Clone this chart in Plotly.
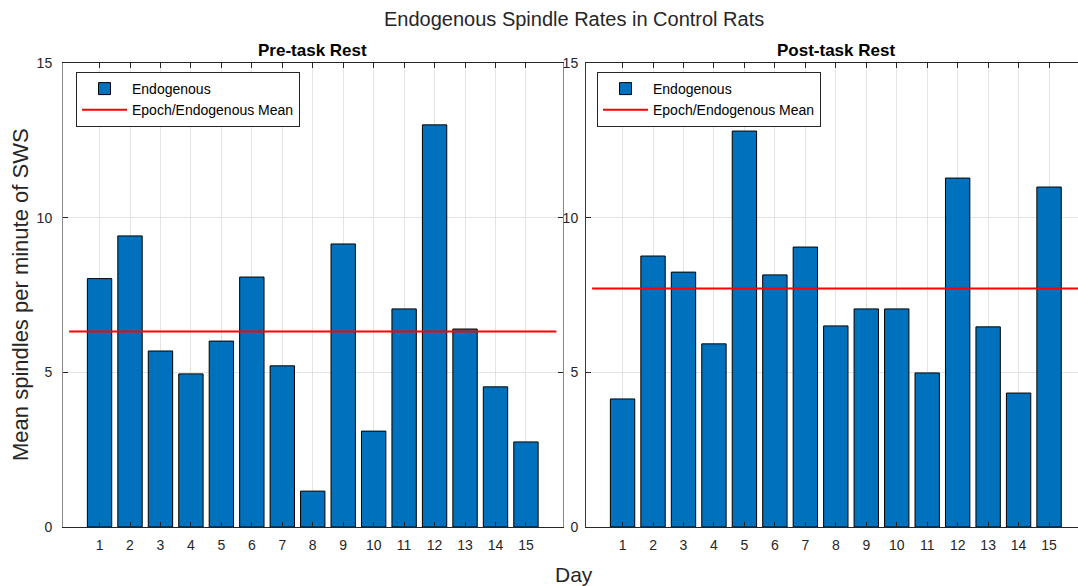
import plotly.graph_objects as go

days = list(range(1, 16))
pre_rates = [8.03, 9.41, 5.69, 4.95, 6.01, 8.08, 5.21, 1.16, 9.15, 3.10, 7.05, 13.0, 6.40, 4.53, 2.75]
post_rates = [4.14, 8.76, 8.24, 5.92, 12.80, 8.15, 9.05, 6.50, 7.05, 7.05, 4.98, 11.28, 6.47, 4.33, 10.99]
pre_mean = 6.32
post_mean = 7.71
mean_span = [0, 16]
y_ticks = [0, 5, 10, 15]

BAR = "#0072BD"
TXT = "#262626"
GRID = "#e3e3e3"
FONT = "Liberation Sans, Arial, sans-serif"

fig = go.Figure()

fig.add_trace(go.Bar(x=days, y=pre_rates, width=0.8, name="Endogenous",
                     marker=dict(color=BAR, line=dict(color="black", width=1)),
                     xaxis="x", yaxis="y", legend="legend"))
fig.add_trace(go.Scatter(x=mean_span, y=[pre_mean, pre_mean], mode="lines",
                         name="Epoch/Endogenous Mean", line=dict(color="#FF0000", width=2),
                         xaxis="x", yaxis="y", legend="legend"))
fig.add_trace(go.Bar(x=days, y=post_rates, width=0.8, name="Endogenous",
                     marker=dict(color=BAR, line=dict(color="black", width=1)),
                     xaxis="x2", yaxis="y2", legend="legend2"))
fig.add_trace(go.Scatter(x=mean_span, y=[post_mean, post_mean], mode="lines",
                         name="Epoch/Endogenous Mean", line=dict(color="#FF0000", width=2),
                         xaxis="x2", yaxis="y2", legend="legend2"))

W, H = 1078, 586
ydom = [1 - 527 / H, 1 - 63 / H]

xcommon = dict(tickvals=days, ticks="inside", ticklen=5, tickcolor=TXT,
               showline=True, linecolor=TXT, linewidth=1, showgrid=True,
               gridcolor=GRID, gridwidth=1, zeroline=False, automargin=False,
               tickfont=dict(size=14, color=TXT, family=FONT), ticklabelstandoff=5)
ycommon = dict(range=[0, 15], tickvals=y_ticks, ticks="inside", ticklen=5,
               tickcolor=TXT, showline=True, linewidth=1, showgrid=True,
               gridcolor=GRID, gridwidth=1, zeroline=False, automargin=False,
               tickfont=dict(size=14, color=TXT, family=FONT))

legcommon = dict(xanchor="left", yanchor="top", bgcolor="white",
                 bordercolor=TXT, borderwidth=1, itemwidth=45,
                 font=dict(size=14, color="black", family=FONT),
                 tracegroupgap=0)

fig.update_layout(
    template="none",
    width=W, height=H, margin=dict(l=0, r=0, t=0, b=0, pad=0, autoexpand=False),
    paper_bgcolor="white", plot_bgcolor="white",
    font=dict(family=FONT, color=TXT),
    barmode="overlay",
    xaxis=dict(domain=[63 / W, 562.5 / W], range=[-0.2, 16.2], mirror="allticks",
               anchor="y", **xcommon),
    yaxis=dict(domain=ydom, anchor="x", mirror="allticks", linecolor="#8a8a8a",
               ticklabelstandoff=7, **ycommon),
    xaxis2=dict(domain=[586 / W, 1.0], range=[-0.2, 15.95], mirror="allticks",
                anchor="y2", **xcommon),
    yaxis2=dict(domain=ydom, anchor="x2", mirror=False, linecolor="#3a3a3a",
                ticklabelstandoff=4, **ycommon),
    legend=dict(x=76 / W, y=1 - 72 / H, **legcommon),
    legend2=dict(x=597 / W, y=1 - 72 / H, **legcommon),
    showlegend=True,
    annotations=[
        dict(text="Endogenous Spindle Rates in Control Rats", x=573.5 / W, y=1 - 19 / H,
             xref="paper", yref="paper", showarrow=False, xanchor="center", yanchor="middle",
             font=dict(size=20, color=TXT, family=FONT)),
        dict(text="<b>Pre-task Rest</b>", x=312.75 / W, y=1 - 50 / H,
             xref="paper", yref="paper", showarrow=False, xanchor="center", yanchor="middle",
             font=dict(size=17, color="black", family=FONT)),
        dict(text="<b>Post-task Rest</b>", x=836 / W, y=1 - 50 / H,
             xref="paper", yref="paper", showarrow=False, xanchor="center", yanchor="middle",
             font=dict(size=17, color="black", family=FONT)),
        dict(text="Mean spindles per minute of SWS", x=20 / W, y=1 - 295 / H, textangle=-90,
             xref="paper", yref="paper", showarrow=False, xanchor="center", yanchor="middle",
             font=dict(size=22, color=TXT, family=FONT)),
        dict(text="Day", x=574 / W, y=1 - 574 / H,
             xref="paper", yref="paper", showarrow=False, xanchor="center", yanchor="middle",
             font=dict(size=21, color=TXT, family=FONT)),
    ],
)

fig.write_html("out.html")
